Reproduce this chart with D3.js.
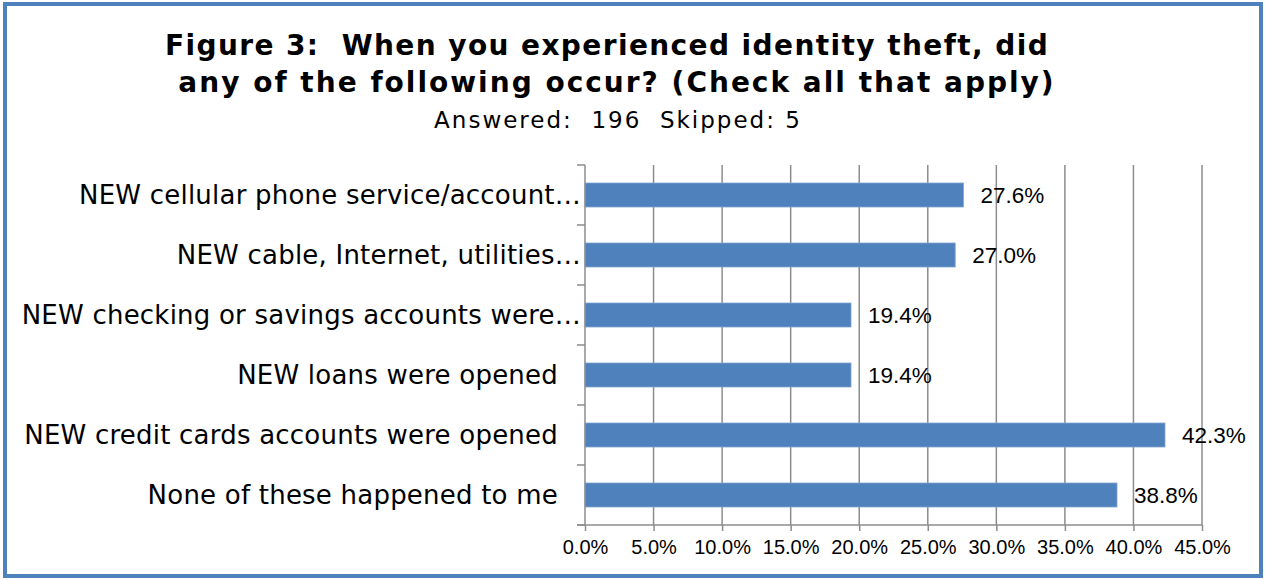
<!DOCTYPE html>
<html>
<head>
<meta charset="utf-8">
<script src="https://cdn.jsdelivr.net/npm/d3@7"></script>
<style>
  html, body { margin: 0; padding: 0; background: #fff; }
  svg { display: block; }
  svg text { white-space: pre; }
</style>
</head>
<body>
<svg id="chart" width="1265" height="580"></svg>
<script>
// Survey responses, top to bottom as listed on the chart
const categories = [
  "NEW cellular phone service/account…",
  "NEW cable, Internet, utilities…",
  "NEW checking or savings accounts were…",
  "NEW loans were opened",
  "NEW credit cards accounts were opened",
  "None of these happened to me"
];
const percentValues = [27.6, 27.0, 19.4, 19.4, 42.3, 38.8];
const tickValues = [0, 5, 10, 15, 20, 25, 30, 35, 40, 45];
const titleLines = [
  "Figure 3:  When you experienced identity theft, did",
  "any of the following occur? (Check all that apply)"
];
const subtitle = "Answered:  196  Skipped: 5";

const svg = d3.select("#chart");
const W = 1265, H = 580;
const narrow = "'Liberation Sans Narrow', 'Liberation Sans', Arial, sans-serif";
const wide = "'DejaVu Sans', Verdana, sans-serif";

// outer frame
svg.append("rect")
  .attr("x", 5).attr("y", 4)
  .attr("width", W - 9).attr("height", H - 8)
  .attr("fill", "#fff")
  .attr("stroke", "#4f81bd").attr("stroke-width", 4);

const plot = { left: 585, right: 1202, top: 165, bottom: 525 };

const x = d3.scaleLinear().domain([0, 45]).range([plot.left, plot.right]);
const y = d3.scaleBand().domain(categories).range([plot.top, plot.bottom]).paddingInner(0.6).paddingOuter(0.3);

// vertical gridlines
svg.append("g")
  .selectAll("line")
  .data(tickValues.slice(1))
  .join("line")
  .attr("x1", d => x(d)).attr("x2", d => x(d))
  .attr("y1", plot.top).attr("y2", plot.bottom)
  .attr("stroke", "#8c8c8c").attr("stroke-width", 1.5);

// bars
svg.append("g")
  .selectAll("rect")
  .data(categories)
  .join("rect")
  .attr("x", x(0))
  .attr("y", d => y(d))
  .attr("width", (d, i) => x(percentValues[i]) - x(0))
  .attr("height", y.bandwidth())
  .attr("fill", "#4f81bd")
  .attr("stroke", "#7fa3d0").attr("stroke-width", 0.8);

// x axis
const xAxis = d3.axisBottom(x)
  .tickValues(tickValues)
  .tickFormat(d => d.toFixed(1) + "%")
  .tickSize(6)
  .tickPadding(9);
const gx = svg.append("g")
  .attr("transform", `translate(0,${plot.bottom})`)
  .call(xAxis);
gx.select(".domain").attr("stroke", "#8c8c8c").attr("stroke-width", 1.5)
  .attr("d", `M${plot.left - 8},0H${plot.right}`);
gx.selectAll(".tick line").attr("stroke", "#8c8c8c").attr("stroke-width", 1.5);
gx.selectAll(".tick text")
  .attr("fill", "#000")
  .attr("font-family", narrow)
  .attr("font-size", 20);

// y axis: line with ticks at category boundaries
const band = (plot.bottom - plot.top) / categories.length;
const gy = svg.append("g");
gy.append("line")
  .attr("x1", plot.left).attr("x2", plot.left)
  .attr("y1", plot.top).attr("y2", plot.bottom)
  .attr("stroke", "#8c8c8c").attr("stroke-width", 1.5);
gy.selectAll("line.tk")
  .data(d3.range(categories.length + 1))
  .join("line")
  .attr("class", "tk")
  .attr("x1", plot.left - 8).attr("x2", plot.left)
  .attr("y1", i => plot.top + i * band).attr("y2", i => plot.top + i * band)
  .attr("stroke", "#8c8c8c").attr("stroke-width", 1.5);

// category labels
svg.append("g")
  .selectAll("text")
  .data(categories)
  .join("text")
  .attr("x", d => d.endsWith("…") ? plot.left - 4 : plot.left - 27)
  .attr("y", d => y(d) + y.bandwidth() / 2)
  .attr("dy", "0.36em")
  .attr("text-anchor", "end")
  .attr("font-family", wide)
  .attr("font-size", 26)
  .attr("letter-spacing", 0.22)
  .attr("fill", "#000")
  .text(d => d);

// value labels
svg.append("g")
  .selectAll("text")
  .data(categories)
  .join("text")
  .attr("x", (d, i) => x(percentValues[i]) + 17)
  .attr("y", d => y(d) + y.bandwidth() / 2)
  .attr("dy", "0.36em")
  .attr("font-family", narrow)
  .attr("font-size", 22.5)
  .attr("fill", "#000")
  .text((d, i) => percentValues[i].toFixed(1) + "%");

// title (two lines)
const titleX = [607, 617];
const titleSpacing = [1.4, 2.0];
svg.append("g")
  .selectAll("text")
  .data(titleLines)
  .join("text")
  .attr("x", (d, i) => titleX[i])
  .attr("y", (d, i) => 55 + i * 37)
  .attr("text-anchor", "middle")
  .attr("font-family", wide)
  .attr("font-weight", "bold")
  .attr("font-size", 28)
  .attr("letter-spacing", (d, i) => titleSpacing[i])
  .attr("fill", "#000")
  .text(d => d);

svg.append("text")
  .attr("x", 618).attr("y", 128)
  .attr("text-anchor", "middle")
  .attr("font-family", wide)
  .attr("font-size", 23)
  .attr("letter-spacing", 2.0)
  .attr("fill", "#000")
  .text(subtitle);
</script>
</body>
</html>
